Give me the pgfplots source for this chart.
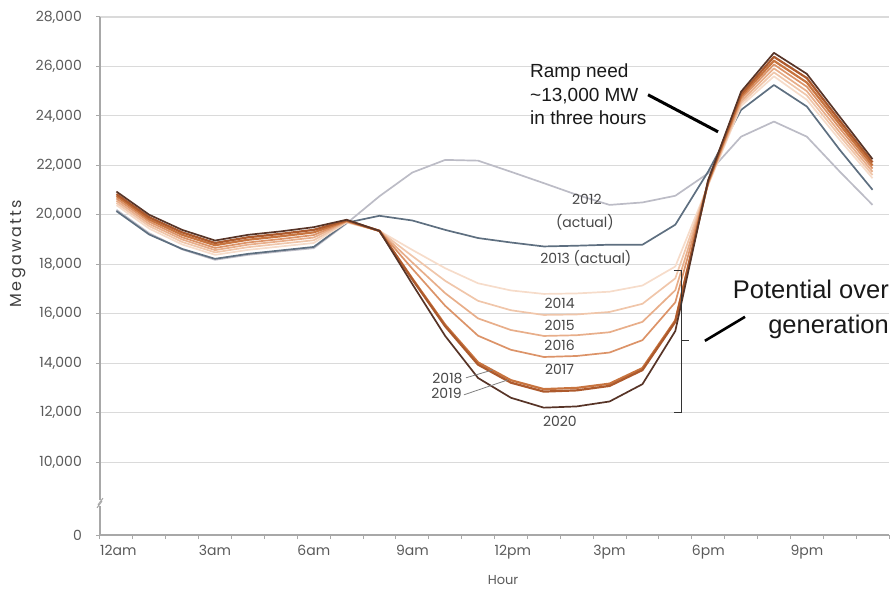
\documentclass[border=0pt]{standalone}
\usepackage{pgfplots}
\pgfplotsset{compat=1.18}
\usepackage{fontspec}
\setmainfont{Poppins}
\newfontfamily\arialfont{Liberation Sans}
\definecolor{c2012}{HTML}{BCBCC6}
\definecolor{c2013}{HTML}{5E6F80}
\definecolor{c2014}{HTML}{F6DCCA}
\definecolor{c2015}{HTML}{F0C6AA}
\definecolor{c2016}{HTML}{E8AE8A}
\definecolor{c2017}{HTML}{DC9368}
\definecolor{c2018}{HTML}{C8743F}
\definecolor{c2019}{HTML}{AD5A2D}
\definecolor{c2020}{HTML}{573427}
\definecolor{axisgray}{HTML}{A8A8A8}
\definecolor{gridgray}{HTML}{DADADA}
\definecolor{ticktext}{HTML}{5A5A5A}
\definecolor{labtext}{HTML}{474747}
\begin{document}
\begin{tikzpicture}
\begin{axis}[
  at={(0,0)}, anchor=south west,
  scale only axis, width=789bp, height=518bp,
  xmin=0, xmax=24, ymin=7050, ymax=28000,
  scaled y ticks=false, scaled x ticks=false,
  axis x line*=bottom, axis y line*=left,
  axis line style={draw=axisgray, line width=1.3bp},
  xtick={0,3,...,21},
  xticklabels={12am,3am,6am,9am,12pm,3pm,6pm,9pm},
  minor xtick={0,1,...,24},
  ytick={7050,10000,12000,14000,16000,18000,20000,22000,24000,26000,28000},
  yticklabels={0,{10,000},{12,000},{14,000},{16,000},{18,000},{20,000},{22,000},{24,000},{26,000},{28,000}},
  tick align=outside, major tick length=4bp, minor tick length=4bp,
  tick style={draw=axisgray, line width=1bp},
  ymajorgrids, grid style={draw=gridgray, line width=1.1bp},
  ticklabel style={font=\fontsize{14bp}{16bp}\selectfont, text=ticktext},
  xticklabel style={anchor=north west, inner sep=0pt, yshift=-6bp},
  yticklabel style={anchor=east, inner sep=0pt, xshift=-14bp},
  xlabel={Hour}, ylabel={Megawatts},
  xlabel style={font=\fontsize{13bp}{15bp}\selectfont, text=ticktext, at={(axis description cs:0.5108,-0.0869)}, anchor=center},
  ylabel style={font=\fontsize{16bp}{18bp}\selectfont\addfontfeatures{LetterSpace=14}, text=black!75, at={(axis description cs:-0.1033,0.5436)}, anchor=center},
  clip=false,
  every axis plot/.append style={line width=1.7bp, line join=round, mark=none},
]
% 2012 actual
\addplot[c2012] coordinates {(0.5,20200)(1.5,19250)(2.5,18600)(3.5,18180)(4.5,18380)(5.5,18520)(6.5,18650)(7.5,19650)(8.5,20750)(9.5,21710)(10.5,22220)(11.5,22190)(12.5,21740)(13.5,21280)(14.5,20810)(15.5,20400)(16.5,20500)(17.5,20770)(18.5,21680)(19.5,23160)(20.5,23770)(21.5,23160)(22.5,21750)(23.5,20400)};
% 2013 actual
\addplot[c2013] coordinates {(0.5,20150)(1.5,19200)(2.5,18620)(3.5,18220)(4.5,18420)(5.5,18560)(6.5,18700)(7.5,19680)(8.5,19960)(9.5,19770)(10.5,19390)(11.5,19060)(12.5,18880)(13.5,18720)(14.5,18750)(15.5,18790)(16.5,18790)(17.5,19600)(18.5,21750)(19.5,24240)(20.5,25250)(21.5,24380)(22.5,22630)(23.5,21010)};
% 2014
\addplot[c2014] coordinates {(0.5,20390)(1.5,19440)(2.5,18800)(3.5,18380)(4.5,18580)(5.5,18720)(6.5,18860)(7.5,19690)(8.5,19350)(9.5,18580)(10.5,17840)(11.5,17230)(12.5,16940)(13.5,16800)(14.5,16820)(15.5,16890)(16.5,17140)(17.5,17910)(18.5,21200)(19.5,24400)(20.5,25600)(21.5,24650)(22.5,23030)(23.5,21480)};
% 2015
\addplot[c2015] coordinates {(0.5,20480)(1.5,19540)(2.5,18900)(3.5,18480)(4.5,18690)(5.5,18830)(6.5,18970)(7.5,19710)(8.5,19350)(9.5,18330)(10.5,17330)(11.5,16520)(12.5,16140)(13.5,15950)(14.5,15970)(15.5,16070)(16.5,16400)(17.5,17430)(18.5,21230)(19.5,24500)(20.5,25760)(21.5,24830)(22.5,23190)(23.5,21610)};
% 2016
\addplot[c2016] coordinates {(0.5,20570)(1.5,19630)(2.5,19000)(3.5,18570)(4.5,18790)(5.5,18930)(6.5,19080)(7.5,19730)(8.5,19350)(9.5,18070)(10.5,16830)(11.5,15810)(12.5,15340)(13.5,15100)(14.5,15130)(15.5,15250)(16.5,15670)(17.5,16950)(18.5,21270)(19.5,24590)(20.5,25920)(21.5,25000)(22.5,23340)(23.5,21740)};
% 2017
\addplot[c2017] coordinates {(0.5,20660)(1.5,19720)(2.5,19090)(3.5,18660)(4.5,18880)(5.5,19020)(6.5,19180)(7.5,19740)(8.5,19350)(9.5,17820)(10.5,16320)(11.5,15110)(12.5,14540)(13.5,14250)(14.5,14290)(15.5,14430)(16.5,14930)(17.5,16460)(18.5,21300)(19.5,24690)(20.5,26080)(21.5,25180)(22.5,23500)(23.5,21870)};
% 2018
\addplot[c2018, line width=2.2bp] coordinates {(0.5,20760)(1.5,19810)(2.5,19190)(3.5,18770)(4.5,18990)(5.5,19130)(6.5,19290)(7.5,19760)(8.5,19350)(9.5,17420)(10.5,15550)(11.5,14030)(12.5,13310)(13.5,12950)(14.5,13000)(15.5,13170)(16.5,13800)(17.5,15730)(18.5,21330)(19.5,24790)(20.5,26230)(21.5,25350)(22.5,23660)(23.5,21990)};
% 2019
\addplot[c2019, line width=2.2bp] coordinates {(0.5,20840)(1.5,19900)(2.5,19290)(3.5,18860)(4.5,19090)(5.5,19230)(6.5,19390)(7.5,19780)(8.5,19350)(9.5,17390)(10.5,15490)(11.5,13940)(12.5,13210)(13.5,12850)(14.5,12900)(15.5,13080)(16.5,13720)(17.5,15670)(18.5,21370)(19.5,24880)(20.5,26390)(21.5,25530)(22.5,23810)(23.5,22120)};
% 2020
\addplot[c2020] coordinates {(0.5,20940)(1.5,20000)(2.5,19390)(3.5,18960)(4.5,19190)(5.5,19330)(6.5,19500)(7.5,19800)(8.5,19350)(9.5,17200)(10.5,15100)(11.5,13400)(12.5,12600)(13.5,12200)(14.5,12250)(15.5,12450)(16.5,13150)(17.5,15300)(18.5,21400)(19.5,24980)(20.5,26550)(21.5,25700)(22.5,23970)(23.5,22250)};

% year labels
\begin{scope}[every node/.style={font=\fontsize{14bp}{16bp}\selectfont, text=labtext, inner sep=0pt}]
\node at (axis cs:14.81,20607) {2012};
\node at (axis cs:14.75,19717) {(actual)};
\node at (axis cs:14.78,18261) {2013 (actual)};
\node at (axis cs:13.98,16400) {2014};
\node at (axis cs:13.98,15510) {2015};
\node at (axis cs:13.98,14701) {2016};
\node at (axis cs:13.98,13730) {2017};
\node at (axis cs:10.57,13394) {2018};
\node at (axis cs:10.54,12759) {2019};
\node at (axis cs:13.99,11640) {2020};
\end{scope}
\draw[gray, line width=0.8bp] (axis cs:11.13,13407) -- (axis cs:11.95,13730);
\draw[gray, line width=0.8bp] (axis cs:11.07,12719) -- (axis cs:12.41,13326);

% bracket
\draw[black!80, line width=1.2bp] (axis cs:17.45,17735) -- (axis cs:17.70,17735) -- (axis cs:17.70,12003) -- (axis cs:17.45,12003);
\draw[black!80, line width=1.2bp] (axis cs:17.70,14903) -- (axis cs:17.92,14903);
\draw[black, line width=2.6bp] (axis cs:18.40,14903) -- (axis cs:19.62,15874);
\node[anchor=base east, inner sep=0pt, font=\arialfont\fontsize{25.5bp}{30bp}\selectfont, text=black!90] at (axis cs:24,16630) {Potential over};
\node[anchor=base east, inner sep=0pt, font=\arialfont\fontsize{25.5bp}{30bp}\selectfont, text=black!90] at (axis cs:24,15214) {generation};

% ramp
\draw[black, line width=3bp] (axis cs:16.67,24854) -- (axis cs:18.80,23357);
\begin{scope}[every node/.style={anchor=base west, inner sep=0pt, font=\arialfont\fontsize{19bp}{24bp}\selectfont, text=black!90}]
\node at (axis cs:13.08,25570) {Ramp need};
\node at (axis cs:13.08,24583) {\textasciitilde13,000 MW};
\node at (axis cs:13.08,23641) {in three hours};
\end{scope}

% axis break
\fill[white] (axis cs:-0.15,8220) rectangle (axis cs:0.15,8470);
\draw[axisgray, line width=1.1bp] (axis cs:-0.09,8150) -- (axis cs:0.06,8420);
\draw[axisgray, line width=1.1bp] (axis cs:-0.06,8270) -- (axis cs:0.09,8540);
\end{axis}
\pgfresetboundingbox
\useasboundingbox (-100bp,-58bp) rectangle (793bp,535bp);
\end{tikzpicture}
\end{document}
